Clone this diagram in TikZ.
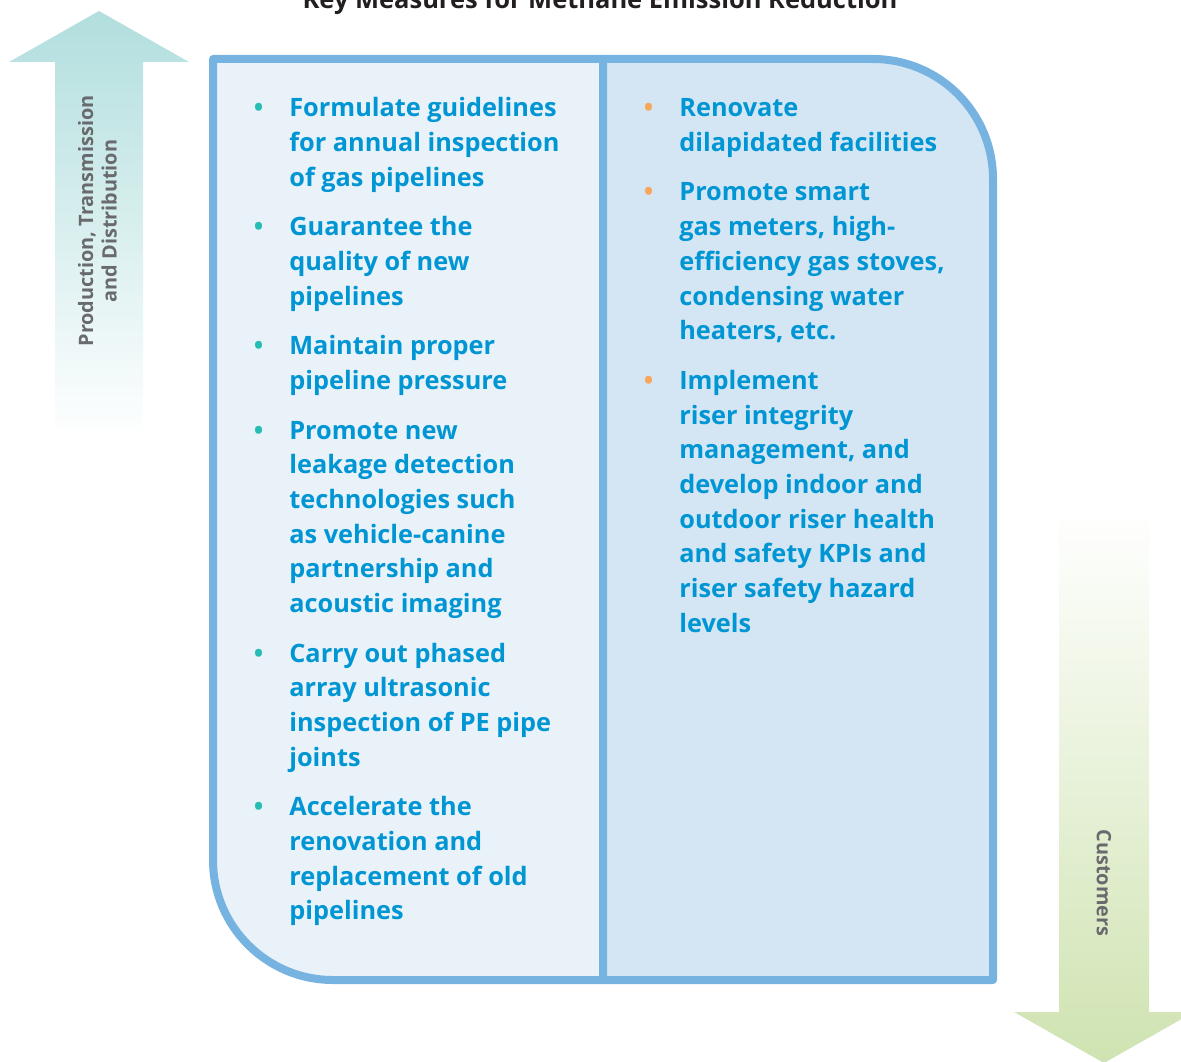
\documentclass[tikz,border=0pt]{standalone}
\usepackage{fontspec}
\setmainfont{Open Sans}
\usepackage{tikz}
\usetikzlibrary{positioning}

\definecolor{boxblue}{RGB}{118,179,224}
\definecolor{leftfill}{RGB}{233,241,249}
\definecolor{rightfill}{RGB}{212,229,244}
\definecolor{itemblue}{RGB}{0,150,212}
\definecolor{tealdot}{RGB}{38,190,180}
\definecolor{orangedot}{RGB}{248,166,90}
\definecolor{arrowteal}{RGB}{178,222,222}
\definecolor{arrowgreen}{RGB}{207,227,177}
\definecolor{labelgray}{RGB}{105,106,110}
\definecolor{titlegray}{RGB}{35,31,32}

\newcommand{\tealbul}{\llap{\textcolor{tealdot}{\textbullet}\hspace{0.52cm}}\strut}
\newcommand{\orangebul}{\llap{\textcolor{orangedot}{\textbullet}\hspace{0.52cm}}\strut}

\begin{document}
\begin{tikzpicture}[node distance=0.285cm, line join=round]
\tikzset{measure/.style={inner sep=0pt, anchor=north west, align=left, text=itemblue,
                         font=\fontsize{14.4}{19.74}\selectfont\bfseries}}
\tikzset{sidelabel/.style={inner sep=0pt, align=center, text=labelgray,
                           font=\fontsize{11.3}{13.4}\selectfont\bfseries}}

        \useasboundingbox (0,0) rectangle (23.62,-21.22);

        % title, cut by the top edge
        \node[anchor=base, text=titlegray, font=\fontsize{14.5}{16}\selectfont\bfseries]
              (title) at (12.0,-0.17) {Key Measures for Methane Emission Reduction};

        % up arrow and down arrow
        \shade[top color=arrowteal, middle color=arrowteal!70!white, bottom color=white]
              (1.1,-8.8) -- (1.1,-1.24) -- (0.18,-1.24) -- (1.98,-0.22)
              -- (3.78,-1.24) -- (2.86,-1.24) -- (2.86,-8.8) -- cycle;
        \shade[top color=white, middle color=arrowgreen!25!white, bottom color=arrowgreen]
              (21.18,-10.2) -- (21.18,-20.24) -- (20.28,-20.24) -- (22.08,-21.26)
              -- (23.88,-20.24) -- (22.98,-20.24) -- (22.98,-10.2) -- cycle;

        \node[sidelabel, rotate=90]  (ptd)  at (1.95,-4.42)   {Production, Transmission\\and Distribution};
        \node[sidelabel, rotate=-90] (cust) at (22.08,-17.66) {Customers};

        % the two panels
        \filldraw[fill=leftfill, draw=boxblue, line width=0.16cm]
              (12.06,-1.18) -- (4.26,-1.18) -- (4.26,-17.2)
              arc[start angle=180, end angle=270, radius=2.4] -- (12.06,-19.6) -- cycle;
        \filldraw[fill=rightfill, draw=boxblue, line width=0.16cm]
              (12.06,-1.18) -- (17.46,-1.18)
              arc[start angle=90, end angle=0, radius=2.4] -- (19.86,-19.6) -- (12.06,-19.6) -- cycle;

        % left column
        \node[measure] (l1) at (5.78,-1.84)
              {\tealbul Formulate guidelines\\for annual inspection\\of gas pipelines\strut};
        \node[measure, below=of l1.south west, anchor=north west] (l2)
              {\tealbul Guarantee the\\quality of new\\pipelines\strut};
        \node[measure, below=of l2.south west, anchor=north west] (l3)
              {\tealbul Maintain proper\\pipeline pressure\strut};
        \node[measure, below=of l3.south west, anchor=north west] (l4)
              {\tealbul Promote new\\leakage detection\\technologies such\\as vehicle-canine\\partnership and\\acoustic imaging\strut};
        \node[measure, below=of l4.south west, anchor=north west] (l5)
              {\tealbul Carry out phased\\array ultrasonic\\inspection of PE pipe\\joints\strut};
        \node[measure, below=of l5.south west, anchor=north west] (l6)
              {\tealbul Accelerate the\\renovation and\\replacement of old\\pipelines\strut};

        % right column
        \node[measure] (r1) at (13.58,-1.84)
              {\orangebul Renovate\\dilapidated facilities\strut};
        \node[measure, below=of r1.south west, anchor=north west] (r2)
              {\orangebul Promote smart\\gas meters, high-\\efficiency gas stoves,\\condensing water\\heaters, etc.\strut};
        \node[measure, below=of r2.south west, anchor=north west] (r3)
              {\orangebul Implement\\riser integrity\\management, and\\develop indoor and\\outdoor riser health\\and safety KPIs and\\riser safety hazard\\levels\strut};

\end{tikzpicture}
\end{document}
